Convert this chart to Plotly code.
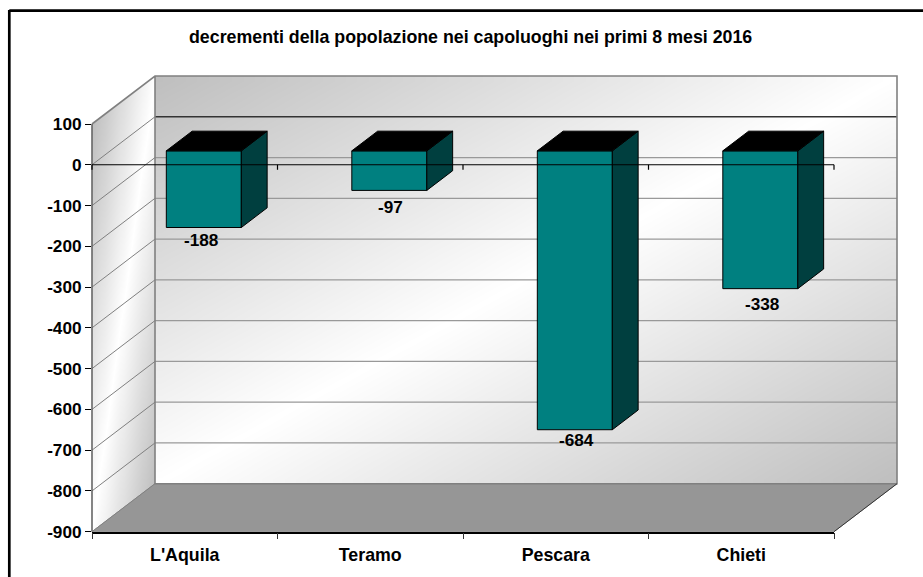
import numpy as np
import plotly.graph_objects as go

TITLE = "decrementi della popolazione nei capoluoghi nei primi 8 mesi 2016"
categories = ["L'Aquila", "Teramo", "Pescara", "Chieti"]
values = [-188, -97, -684, -338]
tick_values = [100, 0, -100, -200, -300, -400, -500, -600, -700, -800, -900]

W, H = 923, 577
FONT = "Liberation Sans, Arial, sans-serif"
# pixel geometry of the front plane
PX_LEFT, PX_RIGHT = 92.0, 834.0
PX_TOP, PX_BOTTOM = 124.0, 531.7
VMAX, VMIN = 100, -900
N = len(categories)
SX = (PX_RIGHT - PX_LEFT) / N          # px per category
SY = (PX_BOTTOM - PX_TOP) / (VMAX - VMIN)  # px per value unit
DEPTH_X = 63.0 / SX                    # full depth in x units
DEPTH_Y = 48.0 / SY                    # full depth in value units
XR = [-PX_LEFT / SX, (W - PX_LEFT) / SX]
YR = [VMAX - (H - PX_TOP) / SY, VMAX + PX_TOP / SY]
BAR_W = 75.0 / SX
D0, D1 = 0.29, 0.70                    # bar start/end along the depth
GRID = "#808080"
FRONT, SIDE, TOP = "#008080", "#003f3f", "#000000"
# small nudges of the value labels, in px
label_dx = [17, 20.7, 21, 21]
label_dy = [1, -3, 3.6, -1.5]

fig = go.Figure()

# back wall
nx, ny = 60, 40
bx = np.linspace(DEPTH_X, N + DEPTH_X, nx + 1)
by = np.linspace(VMIN + DEPTH_Y, VMAX + DEPTH_Y, ny + 1)
u = (np.arange(nx) + .5) / nx
v = (np.arange(ny) + .5) / ny          # 0 bottom, 1 top
zb = [[(ui + (1 - vi)) / 2 for ui in u] for vi in v]
SCALE = [[0, "#bebebe"], [.5, "#ffffff"], [1, "#bebebe"]]
fig.add_trace(go.Heatmap(x=bx, y=by, z=zb, zmin=0, zmax=1, zsmooth="best", colorscale=SCALE,
                         showscale=False, hoverinfo="skip", xaxis="x", yaxis="y"))
# left wall
lx = np.linspace(0, DEPTH_X, 21)
ly = np.linspace(VMIN, VMAX + DEPTH_Y, 81)
ul = (lx[:-1] + lx[1:]) / 2 / DEPTH_X
yl = (ly[:-1] + ly[1:]) / 2
zl = [[(ui + (1 - (yi - ui * DEPTH_Y - VMIN) / (VMAX - VMIN))) / 2 for ui in ul] for yi in yl]
fig.add_trace(go.Heatmap(x=lx, y=ly, z=np.clip(zl, 0, 1), zmin=0, zmax=1, zsmooth="best", colorscale=SCALE,
                         showscale=False, hoverinfo="skip", xaxis="x", yaxis="y"))


def poly(xs, ys, fill, line=None, lw=1, ax=""):
    fig.add_trace(go.Scatter(x=xs + xs[:1], y=ys + ys[:1], mode="lines", fill="toself", fillcolor=fill,
                             line=dict(color=line or fill, width=lw), hoverinfo="skip", showlegend=False,
                             xaxis="x" + ax, yaxis="y" + ax))


def line(xs, ys, color, lw=1, ax=""):
    fig.add_trace(go.Scatter(x=xs, y=ys, mode="lines", line=dict(color=color, width=lw), hoverinfo="skip",
                             showlegend=False, xaxis="x" + ax, yaxis="y" + ax))


# white mask above the left wall, floor below
poly([0, DEPTH_X, 0], [VMAX, VMAX + DEPTH_Y, VMAX + DEPTH_Y + 3], "#ffffff")
poly([0, N, N + DEPTH_X, DEPTH_X], [VMIN, VMIN, VMIN + DEPTH_Y, VMIN + DEPTH_Y], "#969696")

# grid
for t in tick_values[1:-1]:
    line([0, DEPTH_X], [t, t + DEPTH_Y], GRID, 1)
    if t == 0:
        line([DEPTH_X, N + DEPTH_X], [t + DEPTH_Y, t + DEPTH_Y], "#333333", 1.6)
    else:
        line([DEPTH_X, N + DEPTH_X], [t + DEPTH_Y, t + DEPTH_Y], "#999999", 1.2)
line([0, DEPTH_X, N + DEPTH_X, N + DEPTH_X, DEPTH_X, DEPTH_X],
     [VMAX, VMAX + DEPTH_Y, VMAX + DEPTH_Y, VMIN + DEPTH_Y, VMIN + DEPTH_Y, VMAX + DEPTH_Y], GRID, 1.6)
line([0, 0], [VMAX, VMIN], "#666666", 1.6)
line([0, DEPTH_X], [VMIN, VMIN + DEPTH_Y], GRID, 1)
line([N, N + DEPTH_X], [VMIN, VMIN + DEPTH_Y], "#333333", 1)

# bars: real bars for the front faces, polygons for the depth
centers = [i + .5 + (D0 * 63.0 + 0.8) / SX for i in range(N)]
lift0, lift1 = D0 * DEPTH_Y, D1 * DEPTH_Y
fig.add_trace(go.Bar(x=centers, y=values, base=lift0, width=BAR_W,
                     marker=dict(color=FRONT, line=dict(color="#000000", width=1)),
                     hoverinfo="skip", showlegend=False, xaxis="x2", yaxis="y2"))
dx = (D1 - D0) * DEPTH_X
for c, val in zip(centers, values):
    r = c + BAR_W / 2
    l = c - BAR_W / 2
    poly([r, r + dx, r + dx, r], [lift0, lift1, val + lift1, val + lift0], SIDE, "#000000", 1, "2")
    poly([l, r, r + dx, l + dx], [lift0, lift0, lift1, lift1], TOP, "#000000", 1, "2")

# zero line with its ticks, over the bars
tick_len = 5 / SY
zx, zy = [0, N], [0, 0]
for i in range(N + 1):
    zx += [None, i, i]
    zy += [None, 0, -tick_len]
line(zx, zy, "#000000", 1.2, "2")

# labelled axes carry the true categories and values
fig.add_trace(go.Scatter(x=categories, y=values, mode="markers", marker=dict(opacity=0), hoverinfo="skip",
                         showlegend=False, xaxis="x3", yaxis="y3"))

hidden = dict(visible=False, fixedrange=True)
tick_font = dict(family=FONT, size=17.2, color="#000000", weight="bold")
cat_font = dict(family=FONT, size=17.8, color="#000000", weight="bold")
fig.update_layout(
    width=W, height=H, autosize=False, margin=dict(l=0, r=0, t=0, b=0, autoexpand=False),
    paper_bgcolor="#ffffff", plot_bgcolor="rgba(0,0,0,0)", showlegend=False, barmode="overlay",
    xaxis=dict(range=XR, domain=[0, 1], anchor="y", **hidden),
    yaxis=dict(range=YR, domain=[0, 1], anchor="x", **hidden),
    xaxis2=dict(range=XR, domain=[0, 1], anchor="y2", **hidden),
    yaxis2=dict(range=YR, domain=[0, 1], anchor="x2", **hidden),
    xaxis3=dict(type="category", categoryorder="array", categoryarray=categories, range=[-.5, N - .5],
                domain=[PX_LEFT / W, PX_RIGHT / W], anchor="y3", tickson="boundaries", ticks="outside",
                ticklen=6, tickcolor="#333333", showline=True, linecolor="#000000", linewidth=1.5, showgrid=False,
                zeroline=False, tickfont=cat_font, fixedrange=True, ticklabelstandoff=6),
    yaxis3=dict(range=[VMIN, VMAX], domain=[1 - PX_BOTTOM / H, 1 - PX_TOP / H], anchor="x3",
                tickmode="array", tickvals=tick_values, ticktext=[str(t) for t in tick_values],
                ticks="outside", ticklen=6, tickcolor="#000000", showgrid=False, zeroline=False, showline=False,
                tickfont=tick_font, fixedrange=True),
    shapes=[
        dict(type="line", xref="paper", yref="paper", x0=9.3 / W, x1=1.05, y0=1 - 10.7 / H, y1=1 - 10.7 / H,
             line=dict(color="#000000", width=2.7)),
        dict(type="line", xref="paper", yref="paper", x0=9.3 / W, x1=9.3 / W, y0=1 - 10 / H, y1=-.05,
             line=dict(color="#000000", width=2.7)),
    ],
    annotations=[
        dict(text=TITLE, xref="paper", yref="paper", x=470 / W, y=1 - 37 / H, showarrow=False,
             xanchor="center", yanchor="middle",
             font=dict(family=FONT, size=17.8, color="#000000", weight="bold"))
    ] + [
        dict(text=str(val), xref="x3", yref="y3", x=cat, y=val, showarrow=False, xshift=ldx, yshift=ldy,
             font=dict(family=FONT, size=17.2, color="#000000", weight="bold"))
        for cat, val, ldx, ldy in zip(categories, values, label_dx, label_dy)
    ],
)

fig.write_html("out.html", config={"displayModeBar": False}, post_script="document.body.style.margin='0';")
